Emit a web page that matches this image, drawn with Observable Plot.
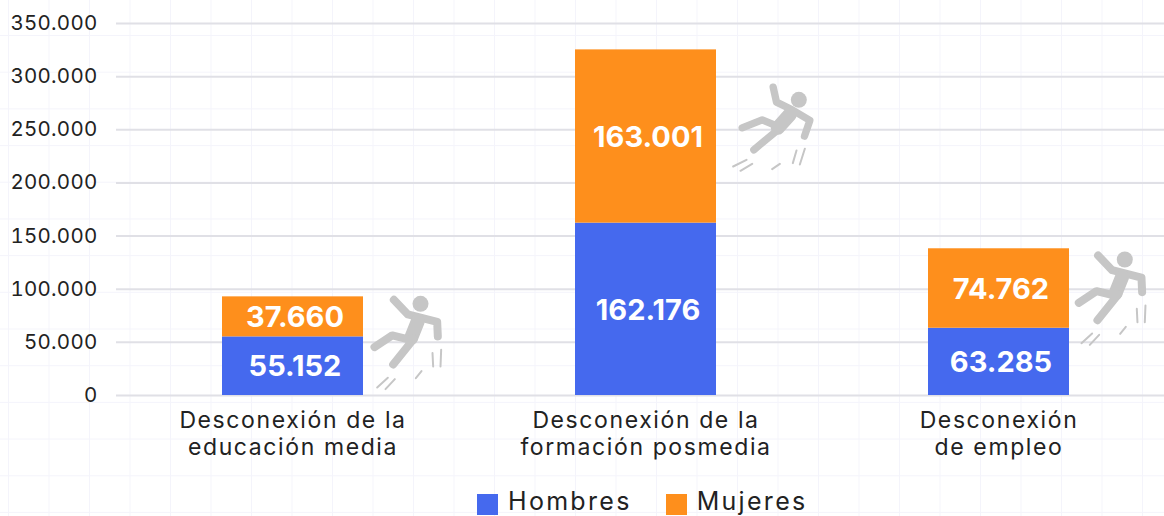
<!DOCTYPE html>
<html lang="es">
<head>
<meta charset="utf-8">
<script src="https://cdn.jsdelivr.net/npm/d3@7"></script>
<script src="https://cdn.jsdelivr.net/npm/@observablehq/plot@0.6"></script>
<style>
  html, body { margin: 0; padding: 0; }
  body {
    width: 1164px; height: 516px; overflow: hidden; position: relative;
    font-family: Inter, "Noto Sans", sans-serif; color: #222;
    background-color: #fff;
    background-image:
      linear-gradient(to right, #f4f4fb 1px, transparent 1px),
      linear-gradient(to bottom, #f4f4fb 1px, transparent 1px);
    background-size: 40.5px 36.7px;
    background-position: 8px -1.7px;
  }
  svg { display: block; background: transparent !important; }
  g[aria-label="x-axis tick label"] { letter-spacing: 1.6px; }
  g[aria-label="y-axis tick label"] { letter-spacing: 0.25px; }
  #legend { position: absolute; left: 477px; top: 490px; display: flex; align-items: center; font-size: 25px; letter-spacing: 2.3px; line-height: 24px; white-space: nowrap; }
  #legend i { display: inline-block; width: 21px; height: 21px; margin-right: 10px; position: relative; top: 2px; }
  #legend span { margin-right: 34px; display: flex; align-items: center; }
  #legend b { font-weight: 400; position: relative; top: -1px; }
</style>
</head>
<body>
<div id="chart"></div>
<div id="legend"></div>
<script>
const categories = ["Desconexión de la\neducación media", "Desconexión de la\nformación posmedia", "Desconexión\nde empleo"];
const series = ["Hombres", "Mujeres"];
const hombres = [55152, 162176, 63285];
const mujeres = [37660, 163001, 74762];
const yTicks = [0, 50000, 100000, 150000, 200000, 250000, 300000, 350000];
const colors = ["#4569ee", "#fe8f1c"];
const iconDx = [117.5, 124.5, 115.8];
const iconDy = [43.6, 80.6, 47.4];

const fmt = d => d3.format(",")(d).replace(/,/g, ".");
const rows = categories.flatMap((c, i) => [
  {category: c, series: series[0], value: hombres[i]},
  {category: c, series: series[1], value: mujeres[i]}
]);
const totals = categories.map((c, i) => ({category: c, total: hombres[i] + mujeres[i]}));

function iconUri(body) {
  const svg = `<svg xmlns="http://www.w3.org/2000/svg" viewBox="0 0 300 360"><g fill="none" stroke="#c6c6c6" stroke-linecap="round" stroke-linejoin="round">${body}</g></svg>`;
  return "data:image/svg+xml," + encodeURIComponent(svg);
}
const pose1 = `<circle cx="180" cy="70" r="24" fill="#c6c6c6" stroke="none"/>
<path stroke-width="24" d="M100 58L142 102L230 124L232 168"/>
<path stroke-width="42" d="M172 122L152 172"/>
<path stroke-width="24" d="M42 200L95 165L150 178M160 175L98 252"/>
<path stroke-width="6" d="M50 321L82 292M75 326L103 296M166 293L183 272M218 258L216 218M240 258L242 208"/>`;
const pose2 = `<circle cx="235" cy="88" r="24" fill="#c6c6c6" stroke="none"/>
<path stroke-width="22" d="M158 50L168 95L215 118L268 150L252 197"/>
<path stroke-width="42" d="M208 132L172 172"/>
<path stroke-width="22" d="M65 172L125 148L172 168M172 178L100 238"/>
<path stroke-width="6" d="M38 288L78 268M60 301L95 280M155 296L178 280M217 278L228 240M238 282L253 235"/>`;
const iconPoses = [pose1, pose2, pose1];

const plot = Plot.plot({
  width: 1164,
  height: 480,
  marginTop: 23,
  marginBottom: 85,
  marginLeft: 116,
  marginRight: 0,
  style: {background: "transparent", fontFamily: "Inter, 'Noto Sans', sans-serif", overflow: "visible"},
  x: {domain: categories, type: "band", range: [116, 1175], paddingInner: 0.6, paddingOuter: 0.3, align: 0.5, label: null},
  y: {domain: [0, 350000], label: null},
  color: {domain: series, range: colors},
  marks: [
    Plot.ruleY(yTicks, {stroke: "#e0e0e6", strokeWidth: 2}),
    Plot.barY(rows, Plot.stackY({x: "category", y: "value", fill: "series", order: null})),
    Plot.text(rows, Plot.stackY({x: "category", y: "value", order: null, text: d => fmt(d.value), fill: "#fff", fontSize: 29, fontWeight: 700, dx: 2, dy: 1})),
    ...totals.map((d, i) => Plot.image([d], {
      x: "category", y: "total",
      src: iconUri(iconPoses[i]),
      width: 100, height: 120,
      dx: iconDx[i], dy: iconDy[i]
    })),
    Plot.axisY({ticks: yTicks, tickFormat: fmt, tickSize: 0, tickPadding: 0, dx: -19, fontSize: 20.5, fill: "#222", label: null, marginLeft: 116}),
    Plot.axisX({tickSize: 0, tickPadding: 13, fontSize: 23, lineHeight: 1.18, fill: "#222", label: null})
  ]
});
document.getElementById("chart").append(plot);

const legend = d3.select("#legend");
series.forEach((s, i) => {
  const item = legend.append("span");
  item.append("i").style("background", colors[i]);
  item.append("b").text(s);
});
</script>
</body>
</html>
